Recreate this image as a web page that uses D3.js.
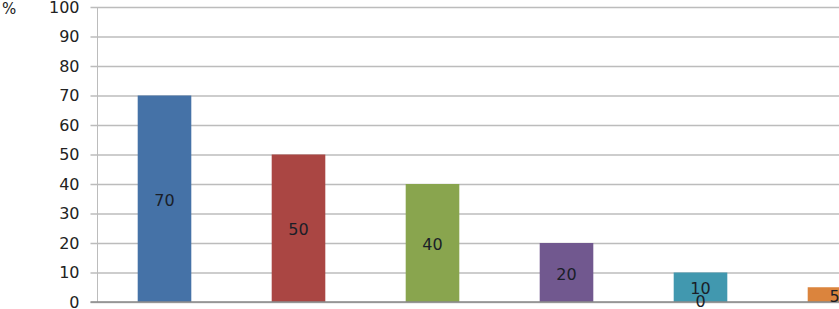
<!DOCTYPE html>
<meta charset="utf-8">
<title>Bars</title>
<body style="margin:0;background:#fff">
<svg width=839 height=309></svg>
<script src="https://d3js.org/d3.v7.min.js"></script>
<script>
    const categories = ["A", "B", "C", "D", "E", "F"];
    const values = [70, 50, 40, 20, 10, 5];
    const colors = ["#4572a7", "#aa4643", "#89a54e", "#71588f", "#4198af", "#db843d"];
    const yTicks = [0, 10, 20, 30, 40, 50, 60, 70, 80, 90, 100];

    const svg = d3.select("svg");
    const plotLeft = 97.5, plotTop = 7, plotBottom = 302, step = 134;
    const font = "DejaVu Sans, Verdana, sans-serif";

    const x = d3.scaleBand()
        .domain(categories)
        .range([plotLeft, plotLeft + step * categories.length])
        .paddingInner(0.6)
        .paddingOuter(0.3);

    const y = d3.scaleLinear().domain([0, 100]).range([plotBottom, plotTop]);

    // gridlines + tick labels
    const yAxis = d3.axisLeft(y)
        .tickValues(yTicks)
        .tickSize(-(839 - plotLeft + 10))
        .tickPadding(18)
        .tickFormat(d3.format("d"));

    const g = svg.append("g")
        .attr("transform", `translate(${plotLeft},0)`)
        .call(yAxis);
    g.select(".domain").remove();
    g.selectAll(".tick line")
        .attr("x1", -7)
        .attr("stroke", "#bcbcbc")
        .attr("stroke-width", 1.3);
    g.selectAll(".tick text")
        .attr("fill", "#222")
        .style("font-family", font)
        .style("font-size", "16px");

    svg.append("text")
        .attr("x", 2).attr("y", 14)
        .attr("fill", "#222")
        .style("font-family", font)
        .style("font-size", "15px")
        .text("%");

    // vertical axis line
    svg.append("line")
        .attr("x1", plotLeft).attr("x2", plotLeft)
        .attr("y1", plotTop).attr("y2", plotBottom)
        .attr("stroke", "#bcbcbc");

    svg.selectAll("rect.bar")
        .data(values)
        .enter()
        .append("rect")
        .attr("class", "bar")
        .attr("x", (d, i) => x(categories[i]))
        .attr("width", x.bandwidth())
        .attr("y", d => y(d))
        .attr("height", d => y(0) - y(d))
        .attr("fill", (d, i) => colors[i]);

    // bottom axis line
    svg.append("line")
        .attr("x1", plotLeft - 7).attr("x2", 839)
        .attr("y1", plotBottom).attr("y2", plotBottom)
        .attr("stroke", "#8a8a8a")
        .attr("stroke-width", 1.3);

    // data labels (the "10" label wraps onto two lines in the source)
    const labels = svg.selectAll("text.lbl")
        .data(values)
        .enter()
        .append("text")
        .attr("class", "lbl")
        .attr("text-anchor", "middle")
        .attr("fill", "#1a1e28")
        .style("font-family", font)
        .style("font-size", "16px")
        .attr("x", (d, i) => x(categories[i]) + x.bandwidth() / 2)
        .attr("y", d => (y(d) + y(0)) / 2 + 7);

    labels.each(function(d) {
        const t = d3.select(this);
        if (d === 10) {
            t.append("tspan").text("10");
            t.append("tspan").attr("x", t.attr("x")).attr("dy", 13).text("0");
        } else {
            t.text(d);
        }
    });
</script>
